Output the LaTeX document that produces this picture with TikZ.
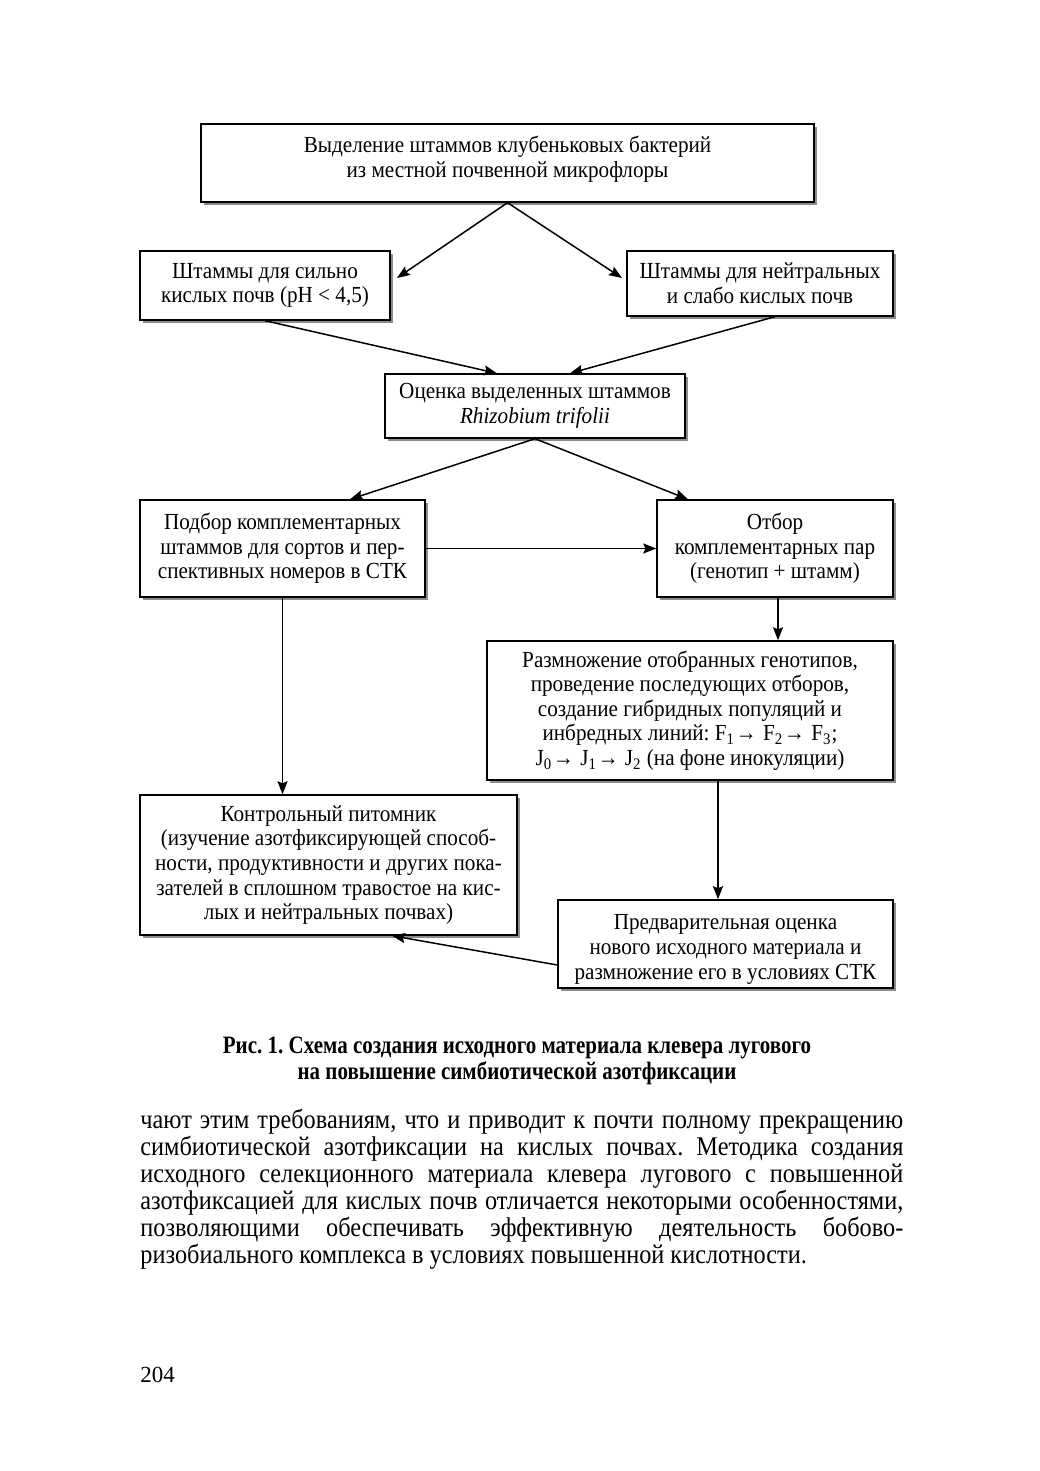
\documentclass[tikz,border=0pt]{standalone}
\usepackage{fontspec}
\setmainfont{Liberation Serif}
\newfontfamily\diafont[FakeStretch=0.92]{Liberation Serif}
\newfontfamily\bodyfont[FakeStretch=0.9]{Liberation Serif}
\newfontfamily\capfont[FakeStretch=0.84]{Liberation Serif}
\usetikzlibrary{arrows.meta,shadows,calc}
\tikzset{
  box/.style={draw=black, line width=0.7pt, fill=white, align=center,
    inner sep=2pt, font=\diafont\fontsize{11.5}{12.3}\selectfont,
    drop shadow={shadow xshift=1.4pt, shadow yshift=-1.4pt, fill=black!45, opacity=1}},
  conn/.style={line width=0.75pt, -{Stealth[length=6.5pt,width=5pt,inset=1pt]}},
}
\newcommand{\myarr}{\kern0.3pt→\kern0.5pt}
\begin{document}
\frenchspacing
\begin{tikzpicture}[x=0.5pt,y=-0.5pt]
\useasboundingbox (0,0) rectangle (1039,1471);
\fill[white] (0,0) rectangle (1039,1471);

\node[box, minimum width=306.5pt, minimum height=39pt] (top) at (507.5,163)
  {Выделение штаммов клубеньковых бактерий\\из местной почвенной микрофлоры\rule[-6.5pt]{0pt}{0pt}};
\node[box, minimum width=125pt, minimum height=34.5pt] (L1) at (265,285.5)
  {Штаммы для сильно\\кислых почв (pH < 4,5)};
\node[box, minimum width=133pt, minimum height=32.5pt] (R1) at (760,283.5)
  {Штаммы для нейтральных\\и слабо кислых почв};
\node[box, minimum width=150pt, minimum height=32pt] (mid) at (535,406)
  {Оценка выделенных штаммов\\\textit{Rhizobium trifolii}};
\node[box, minimum width=142.5pt, minimum height=48.5pt] (L2) at (282.5,548.5)
  {Подбор комплементарных\\штаммов для сортов и пер-\\спективных номеров в СТК};
\node[box, minimum width=118pt, minimum height=48.5pt] (R2) at (775,548.5)
  {Отбор\\комплементарных пар\\(генотип + штамм)};
\node[box, minimum width=203pt, minimum height=69.5pt] (razm) at (690,710.5)
  {Размножение отобранных генотипов,\\проведение последующих отборов,\\создание гибридных популяций и\\инбредных линий: F\textsubscript{1}\myarr{} F\textsubscript{2}\myarr{} F\textsubscript{3};\\J\textsubscript{0}\myarr{} J\textsubscript{1}\myarr{} J\textsubscript{2} (на фоне инокуляции)};
\node[box, minimum width=188.5pt, minimum height=70pt] (ctrl) at (328.5,865)
  {Контрольный питомник\\(изучение азотфиксирующей способ-\\ности, продуктивности и других пока-\\зателей в сплошном травостое на кис-\\лых и нейтральных почвах)};
\node[box, minimum width=167.5pt, minimum height=41pt] (pred) at (725.5,944)
  {\rule{0pt}{13pt}Предварительная оценка\\нового исходного материала и\\размножение его в условиях СТК};

\coordinate (a1) at (397,278);
\coordinate (a2) at (622,278);
\draw[conn] (top.south) -- (a1);
\draw[conn] (top.south) -- (a2);
\draw[conn] (L1.south) -- ([xshift=-19pt]mid.north);
\draw[conn] ([xshift=7.5pt]R1.south) -- ([xshift=17.5pt]mid.north);
\draw[conn] (mid.south) -- ([xshift=33.75pt]L2.north);
\draw[conn] (mid.south) -- ([xshift=-43.5pt]R2.north);
\draw[conn] (L2.east) -- (R2.west);
\draw[conn] ([xshift=1.5pt]R2.south) -- ([xshift=1.5pt]R2.south |- razm.north);
\draw[conn] (L2.south) -- (L2.south |- ctrl.north);
\path ([xshift=14pt]razm.south) coordinate (r9);
\draw[conn] (r9) -- (r9 |- pred.north);
\draw[conn] ([yshift=-10.5pt]pred.west) -- ([xshift=31.75pt]ctrl.south);

\node[align=center, font=\capfont\bfseries\fontsize{12.5}{13}\selectfont] (cap) at (517,1061)
  {Рис. 1. Схема создания исходного материала клевера лугового\\на повышение симбиотической азотфиксации};

\node[anchor=north west, inner sep=0pt, text width=381.5pt, align=justify,
  font=\bodyfont\fontsize{13.5}{13.5}\selectfont] (body) at (140,1109)
  {чают этим требованиям, что и приводит к почти полному прекращению\linebreak
   симбиотической азотфиксации на кислых почвах. Методика создания\linebreak
   исходного селекционного материала клевера лугового с повышенной\linebreak
   азотфиксацией для кислых почв отличается некоторыми особенностями,\linebreak
   позволяющими обеспечивать эффективную деятельность бобово-\linebreak
   ризобиального комплекса в условиях повышенной кислотности.};

\node[anchor=west, inner sep=0pt, font=\fontsize{11.5}{13}\selectfont] (pg) at (140,1375) {204};
\end{tikzpicture}
\end{document}
